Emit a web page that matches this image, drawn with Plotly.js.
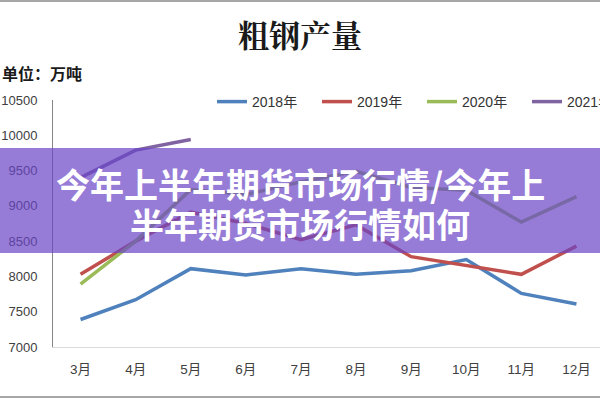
<!DOCTYPE html>
<html>
<head>
<meta charset="utf-8">
<script src="https://cdn.plot.ly/plotly-3.0.1.min.js"></script>
<style>
html,body{margin:0;padding:0;overflow:hidden;background:#fff;width:600px;height:400px;}
#chart{width:700px;height:400px;}
</style>
</head>
<body>
<div id="chart"></div>
<script>
// ---- data ----
const months = ['3月','4月','5月','6月','7月','8月','9月','10月','11月','12月'];
const seriesNames = ['2018年','2019年','2020年','2021年'];
const v2018 = [7390, 7670, 8110, 8020, 8110, 8030, 8080, 8240, 7760, 7610];
const v2019 = [8030, 8500, 8910, 8750, 8520, 8730, 8280, 8150, 8030, 8430];
const v2020 = [7890, 8500, 9230, 9160, 9340, 9490, 9260, 9220, 8770, 9130];
const v2021 = [9400, 9790, 9940];
const yTicks = [7000, 7500, 8000, 8500, 9000, 9500, 10000, 10500];
const chartTitle = '粗钢产量';
const unitLabel = '单位：万吨';
const bannerLine1 = '今年上半年期货市场行情/今年上';
const bannerLine2 = '半年期货市场行情如何';

// ---- geometry helpers (page px -> paper coords) ----
const W = 700, H = 400;
const M = {l: 53, r: 96, t: 100, b: 53};
const PW = W - M.l - M.r, PH = H - M.t - M.b;
const px = X => (X - M.l) / PW;
const py = Y => (H - M.b - Y) / PH;

const colors = ['#4F81BD', '#C0504D', '#9BBB59', '#8064A2'];
const allVals = [v2018, v2019, v2020, v2021];
const latin = 'Liberation Sans, Noto Sans CJK SC, sans-serif';
const cjk = 'Noto Sans CJK SC, sans-serif';

const traces = allVals.map((vals, i) => ({
  type: 'scatter',
  mode: 'lines',
  name: seriesNames[i],
  x: months.slice(0, vals.length),
  y: vals,
  line: {color: colors[i], width: 3.5},
  hoverinfo: 'skip'
}));

const layout = {
  width: W, height: H,
  margin: M,
  paper_bgcolor: '#ffffff',
  plot_bgcolor: '#ffffff',
  showlegend: true,
  title: {
    text: chartTitle,
    xref: 'container', yref: 'container',
    x: 300 / W, xanchor: 'center',
    y: 1 - 36 / H, yanchor: 'middle',
    font: {family: 'Noto Serif CJK SC, Noto Sans CJK SC, serif', size: 31, color: '#1a1a1a', weight: 'bold'}
  },
  legend: {
    orientation: 'h',
    xref: 'paper', yref: 'paper',
    x: px(212), xanchor: 'left',
    y: py(102), yanchor: 'middle',
    font: {family: latin, size: 14, color: '#333333'},
    bgcolor: 'rgba(0,0,0,0)',
    entrywidth: 60, entrywidthmode: 'pixels',
    itemwidth: 30,
    traceorder: 'normal'
  },
  xaxis: {
    type: 'category',
    categoryorder: 'array', categoryarray: months,
    range: [-0.5, 9.5],
    showgrid: false, zeroline: false,
    showline: true, linecolor: '#d9d9d9', linewidth: 1,
    ticks: 'outside', ticklen: 10, tickcolor: 'rgba(0,0,0,0)',
    tickfont: {family: latin, size: 13.5, color: '#404040'},
    fixedrange: true
  },
  yaxis: {
    range: [7000, 10500],
    tickmode: 'array', tickvals: yTicks, ticktext: yTicks.map(String),
    showgrid: false, zeroline: false,
    showline: true, linecolor: '#868686', linewidth: 1,
    ticks: 'outside', ticklen: 12, tickcolor: 'rgba(0,0,0,0)',
    tickfont: {family: latin, size: 13, color: '#404040'},
    fixedrange: true
  },
  shapes: [
    {type: 'rect', xref: 'paper', yref: 'paper', layer: 'above',
     x0: px(-5), x1: px(W + 5), y0: py(253), y1: py(148),
     fillcolor: 'rgba(105,69,198,0.70)', line: {width: 0}},
    {type: 'line', xref: 'paper', yref: 'paper', layer: 'above',
     x0: px(-5), x1: px(W + 5), y0: py(1), y1: py(1),
     line: {color: '#a6a6a6', width: 2}},
    {type: 'line', xref: 'paper', yref: 'paper', layer: 'above',
     x0: px(-5), x1: px(W + 5), y0: py(397), y1: py(397),
     line: {color: '#a6a6a6', width: 2}}
  ],
  annotations: [
    {text: '<b>' + unitLabel + '</b>', xref: 'paper', yref: 'paper',
     x: px(0), xanchor: 'left', y: py(73), yanchor: 'middle',
     showarrow: false, font: {family: cjk, size: 16, color: '#1a1a1a'}},
    {text: '<b>' + bannerLine1 + '</b>', xref: 'paper', yref: 'paper',
     x: px(300), xanchor: 'center', y: py(183), yanchor: 'middle',
     showarrow: false, font: {family: cjk, size: 34, color: '#ffffff'}},
    {text: '<b>' + bannerLine2 + '</b>', xref: 'paper', yref: 'paper',
     x: px(300), xanchor: 'center', y: py(223), yanchor: 'middle',
     showarrow: false, font: {family: cjk, size: 34, color: '#ffffff'}}
  ]
};

Plotly.newPlot('chart', traces, layout, {staticPlot: true, displayModeBar: false});
</script>
</body>
</html>
